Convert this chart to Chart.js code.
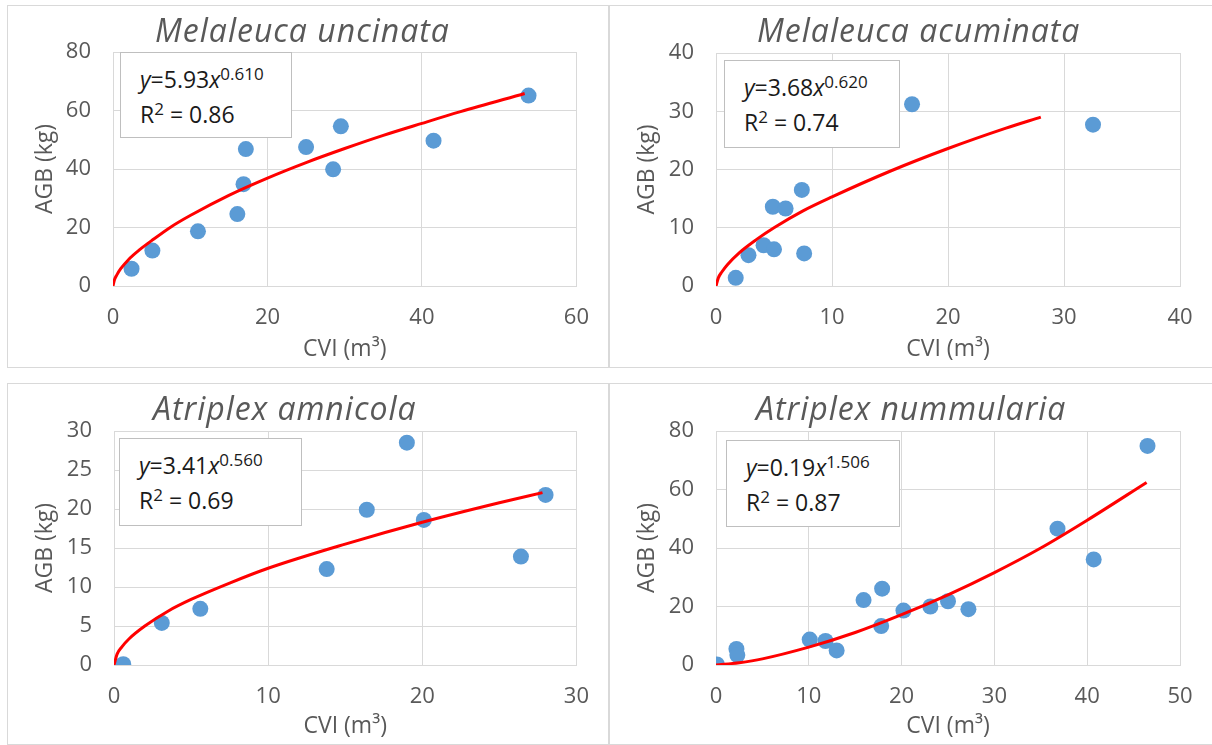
<!DOCTYPE html>
<html lang="en">
<head>
  <meta charset="UTF-8">
  <title>AGB vs CVI</title>
  <script src="https://cdn.jsdelivr.net/npm/chart.js"></script>
  <style>
    body { margin: 0; background: #fff; font-family: "Open Sans", sans-serif; }
    #page { position: relative; width: 1212px; height: 745px; overflow: hidden; }
    .panel { position: absolute; border: 1px solid #d9d9d9; box-sizing: border-box; }
    .panel canvas { position: absolute; left: 0; top: 0; }
    .ttl { position: absolute; font-style: italic; font-size: 32px; letter-spacing: 1px; line-height: 36px; color: #595959; white-space: nowrap; }
    .eq { position: absolute; box-sizing: border-box; border: 1px solid #bfbfbf; background: #fff;
          padding: 9px 0 0 19px; font-size: 23px; line-height: 35px; color: #1a1a1a; white-space: nowrap; }
    .eq .sup { font-size: 17px; vertical-align: 8px; line-height: 0; }
  </style>
</head>
<body>
<div id="page"></div>

<script>
  // values
  const titles = ['Melaleuca uncinata', 'Melaleuca acuminata', 'Atriplex amnicola', 'Atriplex nummularia'];

  const uncinataCvi = [2.4, 5.1, 11.0, 16.1, 16.9, 17.2, 25.0, 28.5, 29.5, 41.5, 53.8];
  const uncinataAgb = [5.9, 12.1, 18.7, 24.6, 34.8, 46.8, 47.5, 39.9, 54.6, 49.7, 65.1];
  const uncinataFitCvi = [0, 0.2, 0.5, 1, 2, 3.5, 5, 7.5, 10, 15, 20, 25, 30, 35, 40, 45, 53.3];
  const uncinataFitAgb = [0, 2.2, 3.8, 5.9, 9.0, 12.5, 15.5, 20.2, 24.1, 31.0, 36.9, 42.2, 47.0, 51.5, 55.6, 59.6, 65.8];

  const acuminataCvi = [1.7, 2.8, 4.1, 5.0, 4.9, 6.0, 7.4, 7.6, 16.9, 32.5];
  const acuminataAgb = [1.4, 5.3, 7.0, 6.3, 13.6, 13.3, 16.5, 5.6, 31.2, 27.7];
  const acuminataFitCvi = [0, 0.2, 0.5, 1, 2, 3.5, 5, 7.5, 10, 15, 20, 25, 28];
  const acuminataFitAgb = [0, 1.4, 2.4, 3.7, 5.7, 8.0, 10.0, 12.9, 15.3, 19.7, 23.6, 27.1, 29.0];

  const amnicolaCvi = [0.6, 3.1, 5.6, 13.8, 16.4, 19.0, 20.1, 26.4, 28.0];
  const amnicolaAgb = [0.1, 5.4, 7.2, 12.3, 19.9, 28.5, 18.6, 13.9, 21.8];
  const amnicolaFitCvi = [0, 0.2, 0.5, 1, 2, 3.5, 5, 7.5, 10, 15, 20, 25, 27.8];
  const amnicolaFitAgb = [0, 1.4, 2.3, 3.4, 5.0, 6.9, 8.4, 10.5, 12.4, 15.5, 18.3, 20.8, 22.1];

  const nummulariaCvi = [0.1, 2.2, 2.3, 10.1, 11.8, 13.0, 15.9, 17.9, 17.8, 20.2, 23.1, 25.0, 27.2, 36.8, 40.7, 46.5];
  const nummulariaAgb = [0.2, 5.5, 3.4, 8.7, 8.2, 5.0, 22.2, 26.1, 13.3, 18.6, 20.0, 21.8, 19.1, 46.6, 36.1, 74.9];
  const nummulariaFitCvi = [0, 2.5, 5, 10, 15, 20, 25, 30, 35, 40, 46.4];
  const nummulariaFitAgb = [0, 0.8, 2.1, 6.1, 11.1, 17.2, 24.0, 31.6, 40.0, 49.5, 62.4];

  // axis ranges and the fitted equation labels
  const xMax = [60, 40, 30, 50];
  const xStep = [20, 10, 10, 10];
  const yMax = [80, 40, 30, 80];
  const yStep = [20, 10, 5, 20];
  const eqCoef = ['5.93', '3.68', '3.41', '0.19'];
  const eqPow = ['0.610', '0.620', '0.560', '1.506'];
  const eqR2 = ['0.86', '0.74', '0.69', '0.87'];

  const series = [
    [uncinataCvi, uncinataAgb, uncinataFitCvi, uncinataFitAgb],
    [acuminataCvi, acuminataAgb, acuminataFitCvi, acuminataFitAgb],
    [amnicolaCvi, amnicolaAgb, amnicolaFitCvi, amnicolaFitAgb],
    [nummulariaCvi, nummulariaAgb, nummulariaFitCvi, nummulariaFitAgb],
  ];

  // page layout: panel frame, plot area inside the canvas, title and equation box
  const frames = [
    { left: 7,   top: 5,   w: 602, h: 363, plot: { l: 105, r: 570, t: 46, b: 280 }, ttl: [155, 12],  eq: [120, 52, 172, 86] },
    { left: 609, top: 5,   w: 605, h: 363, plot: { l: 106, r: 570, t: 47, b: 280 }, ttl: [757, 12],  eq: [724, 60, 176, 88] },
    { left: 7,   top: 383, w: 602, h: 362, plot: { l: 106, r: 570, t: 47, b: 281 }, ttl: [153, 390], eq: [119, 438, 183, 88] },
    { left: 609, top: 383, w: 605, h: 362, plot: { l: 106, r: 570, t: 47, b: 281 }, ttl: [756, 390], eq: [726, 440, 174, 87] },
  ];

  const grey = '#595959';
  const gridGrey = '#d9d9d9';
  Chart.defaults.font.family = "'Open Sans', sans-serif";

  const toPoints = (xs, ys) => xs.map((x, i) => ({ x: x, y: ys[i] }));
  const page = document.getElementById('page');

  frames.forEach((f, i) => {
    const panel = document.createElement('div');
    panel.className = 'panel';
    Object.assign(panel.style, { left: f.left + 'px', top: f.top + 'px', width: f.w + 'px', height: f.h + 'px' });
    const cw = f.w - 2, ch = f.h - 2;
    const canvas = document.createElement('canvas');
    canvas.width = cw; canvas.height = ch;
    canvas.style.width = cw + 'px'; canvas.style.height = ch + 'px';
    panel.appendChild(canvas);
    page.appendChild(panel);

    const ttl = document.createElement('div');
    ttl.className = 'ttl';
    ttl.textContent = titles[i];
    ttl.style.left = f.ttl[0] + 'px';
    ttl.style.top = f.ttl[1] + 'px';
    page.appendChild(ttl);

    const eq = document.createElement('div');
    eq.className = 'eq';
    Object.assign(eq.style, { left: f.eq[0] + 'px', top: f.eq[1] + 'px', width: f.eq[2] + 'px', height: f.eq[3] + 'px' });
    eq.innerHTML = '<div><i>y</i>=' + eqCoef[i] + '<i>x</i><span class="sup">' + eqPow[i] + '</span></div>' +
                   '<div>R<span class="sup">2</span> = ' + eqR2[i] + '</div>';
    page.appendChild(eq);

    const [cvi, agb, fitX, fitY] = series[i];
    const p = f.plot;

    new Chart(canvas, {
      type: 'scatter',
      data: {
        datasets: [
          {
            data: toPoints(fitX, fitY),
            showLine: true,
            borderColor: '#ff0000',
            borderWidth: 3,
            pointRadius: 0,
            cubicInterpolationMode: 'monotone',
            fill: false,
          },
          {
            data: toPoints(cvi, agb),
            backgroundColor: '#5b9bd5',
            borderColor: '#5b9bd5',
            borderWidth: 0,
            pointRadius: 8,
          },
        ],
      },
      options: {
        responsive: false,
        animation: false,
        events: [],
        layout: { padding: { left: 0, top: p.t, right: cw - p.r, bottom: 0 } },
        plugins: { legend: { display: false }, tooltip: { enabled: false } },
        scales: {
          x: {
            type: 'linear', min: 0, max: xMax[i],
            ticks: { stepSize: xStep[i], padding: 19, color: grey, font: { size: 22 } },
            grid: { color: gridGrey, drawTicks: false },
            border: { color: gridGrey },
            title: { display: true, text: 'CVI (m³)', color: grey, font: { size: 23 }, padding: { top: 0, bottom: 4 } },
            afterFit: (s) => { s.height = ch - p.b; },
          },
          y: {
            type: 'linear', min: 0, max: yMax[i],
            ticks: { stepSize: yStep[i], padding: 22, color: grey, font: { size: 22 } },
            grid: { color: gridGrey, drawTicks: false },
            border: { color: gridGrey },
            title: { display: true, text: 'AGB (kg)', color: grey, font: { size: 23 }, padding: { top: 24, bottom: 0 } },
            afterFit: (s) => { s.width = p.l; },
          },
        },
      },
    });
  });
</script>
</body>
</html>
